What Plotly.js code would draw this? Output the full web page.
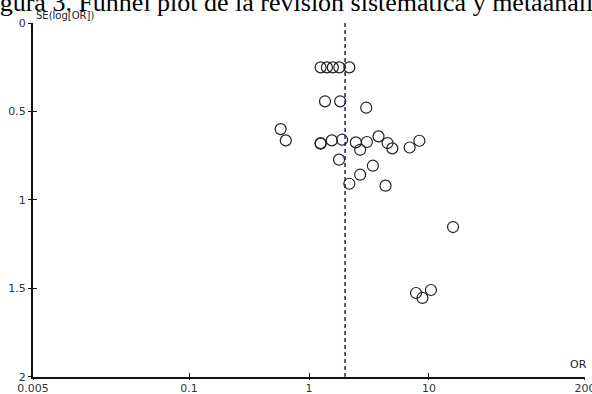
<!DOCTYPE html>
<html>
<head>
<meta charset="utf-8">
<script src="https://cdn.plot.ly/plotly-3.0.1.min.js"></script>
<style>
html,body{margin:0;padding:0;background:#fff;overflow:hidden;}
#chart{width:592px;height:394px;}
</style>
</head>
<body>
<div id="chart"></div>
<script>
// Study odds ratios (x) and standard errors of log(OR) (y)
var orValues = [1.25, 1.41, 1.58, 1.79, 2.17,
                1.36, 1.82, 3.00,
                0.58, 0.64, 1.25, 1.25, 1.55, 1.89, 2.46, 3.04, 2.67, 3.80, 4.52, 4.95, 6.91, 8.33,
                1.78, 3.41, 2.67, 2.17, 4.35,
                15.9, 7.81, 8.83, 10.4];
var seValues = [0.251, 0.251, 0.251, 0.251, 0.251,
                0.443, 0.443, 0.479,
                0.600, 0.664, 0.679, 0.683, 0.664, 0.660, 0.675, 0.673, 0.717, 0.641, 0.679, 0.709, 0.704, 0.666,
                0.773, 0.807, 0.858, 0.909, 0.920,
                1.154, 1.527, 1.555, 1.510];
var pooledOR = 2.0;
var seRange = [0, 2];
var xTickVals = [0.005, 0.1, 1, 10, 200];
var xTickText = ["0.005", "0.1", "1", "10", "200"];
var yTickVals = [0, 0.5, 1, 1.5, 2];
var yTickText = ["0", "0.5", "1", "1.5", "2"];
var titleText = "Figura 3. Funnel plot de la revisión sistemática y metaanálisis";

var traces = [
  {
    x: [pooledOR, pooledOR], y: seRange,
    type: 'scatter', mode: 'lines',
    line: {color: '#1c1c78', width: 1.5, dash: '4px,3px'},
    hoverinfo: 'skip', showlegend: false
  },
  {
    x: orValues, y: seValues,
    type: 'scatter', mode: 'markers',
    marker: {symbol: 'circle-open', size: 11, color: '#222222', line: {width: 1.2, color: '#222222'}},
    showlegend: false
  }
];

var tickFont = {family: 'DejaVu Sans', size: 11, color: '#333'};
var xRange = [Math.log10(0.005) - 0.001, Math.log10(200) + 0.001];
var yRange = [2.002, 0];

var layout = {
  width: 592, height: 394,
  margin: {l: 33, r: 7, t: 23, b: 17, pad: 0},
  paper_bgcolor: '#fff', plot_bgcolor: 'rgba(0,0,0,0)',
  showlegend: false,
  xaxis: {
    type: 'log', range: xRange,
    tickvals: xTickVals, ticktext: xTickText,
    ticks: 'inside', ticklen: 4, tickwidth: 1, tickcolor: '#111',
    showline: true, linecolor: '#111', linewidth: 1.5,
    showgrid: false, zeroline: false, ticklabeloverflow: 'allow',
    tickfont: tickFont, automargin: false
  },
  xaxis2: {
    type: 'log', range: xRange, overlaying: 'x', side: 'bottom',
    tickvals: xTickVals, showticklabels: false,
    ticks: 'outside', ticklen: 2, tickwidth: 1, tickcolor: '#111',
    showline: false, showgrid: false, zeroline: false, automargin: false
  },
  yaxis: {
    range: yRange,
    tickvals: yTickVals, ticktext: yTickText,
    ticks: 'outside', ticklen: 3, tickwidth: 1, tickcolor: '#111',
    showline: true, linecolor: '#111', linewidth: 2,
    showgrid: false, zeroline: false, ticklabeloverflow: 'allow',
    tickfont: tickFont, automargin: false
  },
  yaxis2: {
    range: yRange, overlaying: 'y', side: 'left',
    tickvals: yTickVals, showticklabels: false,
    ticks: 'inside', ticklen: 4, tickwidth: 1, tickcolor: '#111',
    showline: false, showgrid: false, zeroline: false, automargin: false
  },
  annotations: [
    {text: titleText, xref: 'paper', yref: 'paper', x: -0.1027, y: 1.012,
     xanchor: 'left', yanchor: 'bottom', showarrow: false,
     font: {family: 'Liberation Serif', size: 26, color: '#000'}},
    {text: 'SE(log[OR])', xref: 'paper', yref: 'paper', x: 0.002, y: 1.02,
     xanchor: 'left', yanchor: 'middle', showarrow: false,
     font: {family: 'DejaVu Sans', size: 10, color: '#222'}},
    {text: 'OR', xref: 'paper', yref: 'paper', x: 1.008, y: 0.012,
     xanchor: 'right', yanchor: 'bottom', showarrow: false,
     font: {family: 'DejaVu Sans', size: 11, color: '#222'}}
  ]
};

// invisible trace to activate the overlay axes
traces.push({x: [1], y: [0], xaxis: 'x2', yaxis: 'y2', type: 'scatter', mode: 'markers',
             marker: {opacity: 0}, hoverinfo: 'skip', showlegend: false});

Plotly.newPlot('chart', traces, layout, {displayModeBar: false, staticPlot: true});
</script>
</body>
</html>
